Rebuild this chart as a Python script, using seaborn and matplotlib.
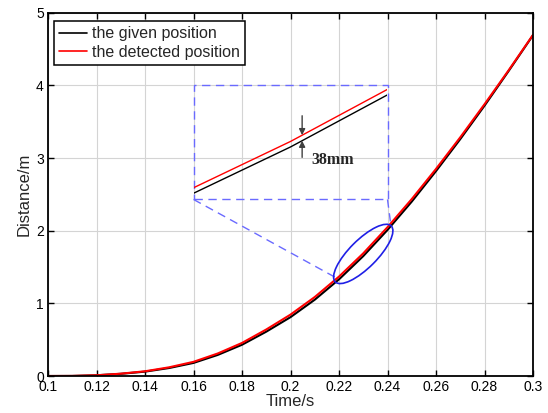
import numpy as np
import pandas as pd
import matplotlib
matplotlib.use("Agg")
import matplotlib.pyplot as plt
import matplotlib.transforms as mtransforms
from matplotlib.patches import Ellipse, Rectangle
import seaborn as sns

# Sampled trajectory (time in s, distance in m)
time_s = [0.10, 0.11, 0.12, 0.13, 0.14, 0.15, 0.16, 0.17, 0.18, 0.19, 0.20,
          0.21, 0.22, 0.23, 0.24, 0.25, 0.26, 0.27, 0.28, 0.29, 0.30]
given_pos = [0.000, 0.001, 0.010, 0.030, 0.060, 0.110, 0.180, 0.290, 0.430, 0.610, 0.810,
             1.050, 1.330, 1.650, 2.010, 2.400, 2.820, 3.260, 3.720, 4.200, 4.690]
detected_pos = [0.000, 0.001, 0.010, 0.032, 0.065, 0.120, 0.195, 0.310, 0.455, 0.640, 0.845,
                1.087, 1.368, 1.688, 2.048, 2.435, 2.850, 3.285, 3.740, 4.210, 4.695]
series_names = ["the given position", "the detected position"]
x_ticks = [0.10, 0.12, 0.14, 0.16, 0.18, 0.20, 0.22, 0.24, 0.26, 0.28, 0.30]
x_tick_labels = ["0.1", "0.12", "0.14", "0.16", "0.18", "0.2", "0.22", "0.24", "0.26", "0.28", "0.3"]
y_ticks = [0, 1, 2, 3, 4, 5]
y_tick_labels = ["0", "1", "2", "3", "4", "5"]
gap_label = "38mm"

df = pd.concat([
    pd.DataFrame({"t": time_s, "d": given_pos, "series": series_names[0]}),
    pd.DataFrame({"t": time_s, "d": detected_pos, "series": series_names[1]}),
], ignore_index=True)

sns.set_style("ticks")
plt.rcParams["font.family"] = ["Liberation Sans", "DejaVu Sans"]

fig = plt.figure(figsize=(5.48, 4.13), dpi=100)
ax = fig.add_axes([48 / 548, 1 - 376 / 413, 485 / 548, 363.3 / 413])

palette = {series_names[0]: "#000000", series_names[1]: "#ff0000"}
sns.lineplot(data=df, x="t", y="d", hue="series", palette=palette,
             linewidth=1.5, ax=ax, legend=False, sort=False)

ax.set_xlim(0.1, 0.3)
ax.set_ylim(0, 5)
ax.set_xticks(x_ticks)
ax.set_xticklabels(x_tick_labels)
ax.set_yticks(y_ticks)
ax.set_yticklabels(y_tick_labels)
ax.grid(True, color="#d4d4d4", linewidth=0.8)
ax.set_axisbelow(True)
ax.tick_params(direction="in", length=4, width=1, top=True, right=True,
               labelsize=10, pad=3, colors="black")
for sp in ax.spines.values():
    sp.set_visible(True)
    sp.set_linewidth(1.3)
    sp.set_color("black")
ax.set_xlabel("Time/s", fontsize=12, labelpad=0)
ax.set_ylabel("Distance/m", fontsize=12, labelpad=3)

handles = [plt.Line2D([], [], color=palette[n], lw=1.2) for n in series_names]
leg = ax.legend(handles, series_names, loc="upper left",
                bbox_to_anchor=(0.0124, 0.977), borderaxespad=0,
                fontsize=11.5, handlelength=1.75, handletextpad=0.3,
                borderpad=0.32, labelspacing=0.22, fancybox=False,
                framealpha=1)
leg.get_frame().set_edgecolor("black")
leg.get_frame().set_linewidth(1.1)

# Zoom window: dashed box, inset axes, ellipse and connector lines
zoom_color = "#6a6aff"
box_x0, box_y0, box_w, box_h = 0.16, 2.43, 0.08, 1.57
ax.add_patch(Rectangle((box_x0, box_y0), box_w, box_h, fill=False,
                       edgecolor=zoom_color, linewidth=1.0,
                       linestyle=(0, (6, 4)), zorder=3))

t0, t1 = 0.22, 0.24
i0, i1 = time_s.index(t0), time_s.index(t1)

ins = ax.inset_axes([box_x0, box_y0, box_w, box_h], transform=ax.transData)
ins.patch.set_visible(False)
ins.axis("off")
sub = df[(df["t"] >= t0 - 1e-9) & (df["t"] <= t1 + 1e-9)]
sns.lineplot(data=sub, x="t", y="d", hue="series", palette=palette,
             linewidth=1.0, ax=ins, legend=False, sort=False)
ins.set_xlim(t0, t1)
ins.set_ylim(1.2875, 2.0755)

# Arrows marking the separation between the two curves
ta = 0.2312
yb = np.interp(ta, time_s, given_pos)
yr = np.interp(ta, time_s, detected_pos)
arrow_kw = dict(arrowstyle="-|>", color="#404040", lw=1.0, mutation_scale=9,
                shrinkA=0, shrinkB=0)
ins.annotate("", xy=(ta, yr), xytext=(0, 14), textcoords="offset points",
             arrowprops=arrow_kw)
ins.annotate("", xy=(ta, yb), xytext=(0, -12), textcoords="offset points",
             arrowprops=arrow_kw)
ins.annotate(gap_label, xy=(ta, yb), xytext=(7, -14), textcoords="offset points",
             ha="left", va="center", fontsize=11.5, fontweight="bold",
             family=["Liberation Serif", "DejaVu Serif"])

cx = (t0 + t1) / 2
cy = (given_pos[i0] + given_pos[i1]) / 2 + 0.01
ell_trans = (mtransforms.Affine2D().scale(fig.dpi / 72.0)
             + mtransforms.ScaledTranslation(cx, cy, ax.transData))
ax.add_patch(Ellipse((0, 0), width=57, height=20, angle=45, fill=False,
                     edgecolor="#1f1fe6", linewidth=1.2, transform=ell_trans,
                     zorder=4))

ax.plot([box_x0, t0], [box_y0, given_pos[i0]], color=zoom_color,
        lw=1.0, ls=(0, (6, 4)), zorder=3)
ax.plot([box_x0 + box_w, t1 + 0.0015], [box_y0, given_pos[i1] + 0.04],
        color=zoom_color, lw=1.0, ls=(0, (6, 4)), zorder=3)

fig.savefig("out.png", dpi=100)
